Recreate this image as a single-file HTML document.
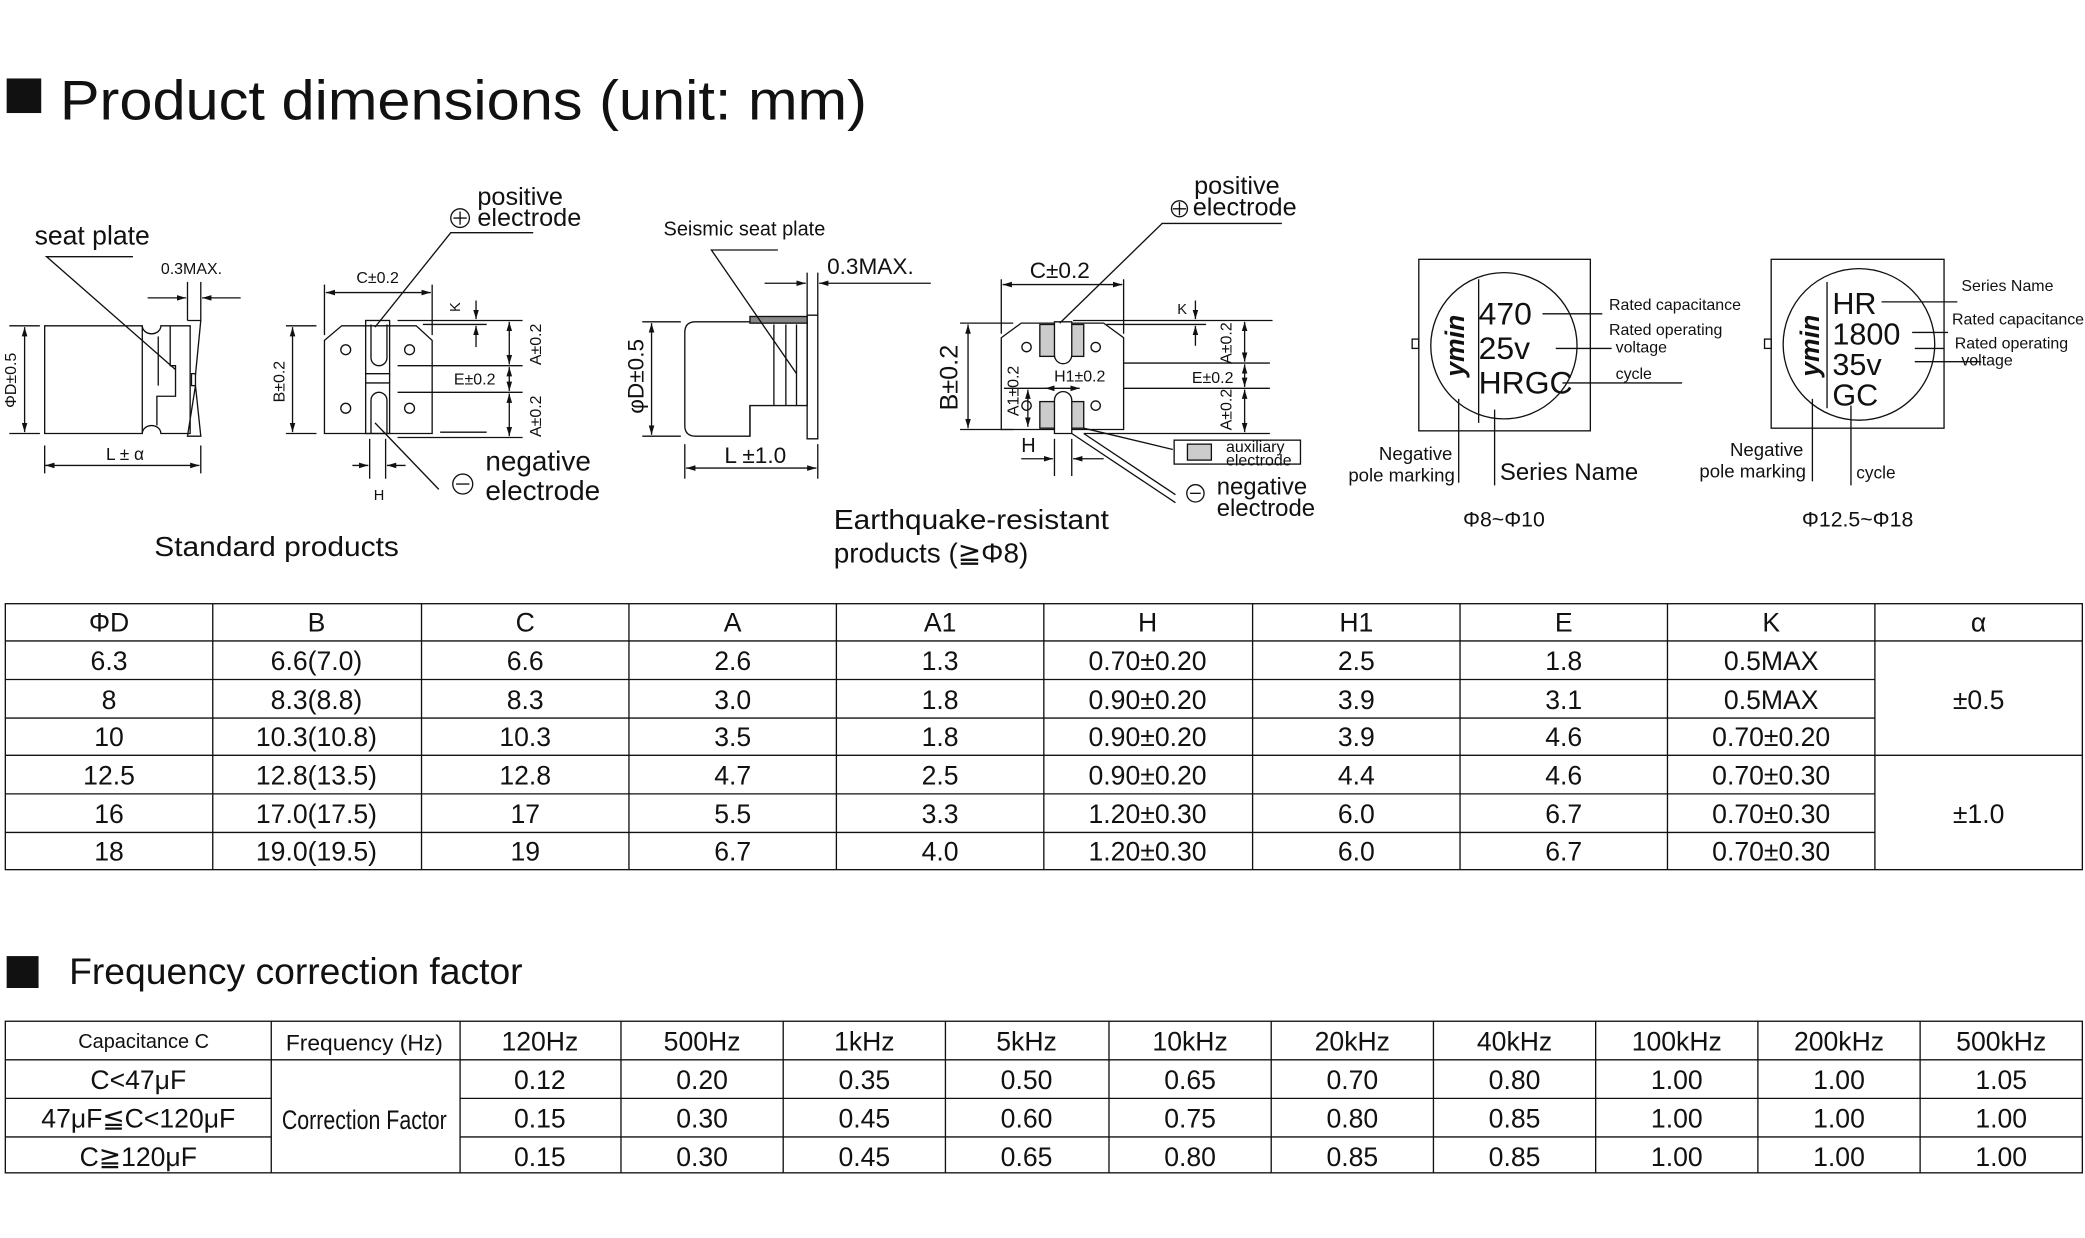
<!DOCTYPE html>
<html><head><meta charset="utf-8"><style>
html,body{margin:0;padding:0;background:#fff}
svg{display:block}
text{font-family:"Liberation Sans","DejaVu Sans",sans-serif;fill:#111}
</style></head><body>
<svg width="2085" height="1238" viewBox="0 0 1568 931" xmlns="http://www.w3.org/2000/svg">
<defs>
<marker id="a" viewBox="0 0 10 10" refX="10" refY="5" markerWidth="7" markerHeight="7" orient="auto-start-reverse"><path d="M0,2 L10,5 L0,8z" fill="#111"/></marker>
</defs>
<g stroke="#111" fill="none" stroke-width="1">
<rect x="5" y="59" width="26" height="26" fill="#111" stroke="none"/>
<!-- ===== Diagram 1 ===== -->
<path d="M33.6,245 H107 A7,6 0 0 0 121,245 H143 V326 H121 A7,6 0 0 0 107,326 H33.6 Z"/>
<line x1="107" y1="245" x2="107" y2="326"/>
<line x1="119" y1="253" x2="119" y2="290"/>
<path d="M128,245 V275 H132 V298 H118 V320"/>
<path d="M141,241 H151 L147,282 M147,290 L151,328 H141 Z"/>
<rect x="144" y="281" width="3" height="9"/>
<path d="M100,193 H35 L132,278"/>
<line x1="141" y1="212" x2="141" y2="241"/><line x1="151" y1="212" x2="151" y2="241"/>
<line x1="111" y1="224" x2="140" y2="224" marker-end="url(#a)"/>
<line x1="181" y1="224" x2="152" y2="224" marker-end="url(#a)"/>
<line x1="7" y1="245" x2="30" y2="245"/><line x1="7" y1="326" x2="30" y2="326"/>
<line x1="18.5" y1="246" x2="18.5" y2="325" marker-start="url(#a)" marker-end="url(#a)"/>
<line x1="33.6" y1="335" x2="33.6" y2="356"/><line x1="151" y1="335" x2="151" y2="356"/>
<line x1="34" y1="350" x2="150" y2="350" marker-start="url(#a)" marker-end="url(#a)"/>
<!-- ===== Diagram 2 ===== -->
<path d="M244,256 L257,245 H313 L325,256 V326 H244 Z"/>
<rect x="275" y="241" width="18" height="85"/>
<line x1="275" y1="281" x2="293" y2="281"/><line x1="275" y1="288" x2="293" y2="288"/>
<path d="M279,244 V269 A6,6 0 0 0 291,269 V244"/>
<path d="M279,326 V301 A6,6 0 0 1 291,301 V326"/>
<circle cx="260" cy="263" r="3.7"/><circle cx="308" cy="263" r="3.7"/>
<circle cx="260" cy="307" r="3.7"/><circle cx="308" cy="307" r="3.7"/>
<line x1="244" y1="214" x2="244" y2="252"/><line x1="325" y1="214" x2="325" y2="252"/>
<line x1="245" y1="220" x2="324" y2="220" marker-start="url(#a)" marker-end="url(#a)"/>
<line x1="215" y1="245" x2="238" y2="245"/><line x1="215" y1="326" x2="238" y2="326"/>
<line x1="220" y1="246" x2="220" y2="325" marker-start="url(#a)" marker-end="url(#a)"/>
<line x1="299" y1="241" x2="393" y2="241"/><line x1="318" y1="244" x2="366" y2="244"/>
<line x1="299" y1="275" x2="393" y2="275"/><line x1="299" y1="295" x2="393" y2="295"/>
<line x1="299" y1="329" x2="393" y2="329"/><line x1="331" y1="325" x2="366" y2="325"/>
<line x1="383" y1="242" x2="383" y2="274" marker-start="url(#a)" marker-end="url(#a)"/>
<line x1="383" y1="276" x2="383" y2="294" marker-start="url(#a)" marker-end="url(#a)"/>
<line x1="383" y1="296" x2="383" y2="328" marker-start="url(#a)" marker-end="url(#a)"/>
<line x1="358" y1="226" x2="358" y2="240" marker-end="url(#a)"/>
<line x1="358" y1="261" x2="358" y2="245" marker-end="url(#a)"/>
<path d="M401,175 H339 L282,246"/>
<circle cx="346" cy="164" r="7"/><path d="M341,164 H351 M346,159 V169"/>
<path d="M282,318 L330,368"/>
<line x1="278" y1="330" x2="278" y2="360"/><line x1="290" y1="330" x2="290" y2="360"/>
<line x1="265" y1="350" x2="277" y2="350" marker-end="url(#a)"/><line x1="305" y1="350" x2="291" y2="350" marker-end="url(#a)"/>
<circle cx="348" cy="364" r="7.5"/><line x1="343" y1="364" x2="353" y2="364"/>
<!-- ===== Diagram 3 ===== -->
<path d="M523,242 H607 V305 H564 V328 H523 Q515,328 515,320 V250 Q515,242 523,242 Z"/>
<rect x="564" y="238" width="43" height="5" fill="#888"/>
<path d="M607,237 H615 V330 H607 Z"/>
<line x1="564" y1="305" x2="564" y2="328"/>
<line x1="582" y1="244" x2="582" y2="305"/><line x1="591" y1="244" x2="591" y2="305"/><line x1="599" y1="244" x2="599" y2="305"/>
<path d="M585,188 H535 L599,281"/>
<line x1="607" y1="205" x2="607" y2="237"/><line x1="615" y1="205" x2="615" y2="237"/>
<line x1="575" y1="213" x2="606" y2="213" marker-end="url(#a)"/>
<line x1="700" y1="213" x2="616" y2="213" marker-end="url(#a)"/>
<line x1="483" y1="242" x2="512" y2="242"/><line x1="483" y1="328" x2="512" y2="328"/>
<line x1="490" y1="243" x2="490" y2="327" marker-start="url(#a)" marker-end="url(#a)"/>
<line x1="515" y1="334" x2="515" y2="360"/><line x1="615" y1="334" x2="615" y2="360"/>
<line x1="516" y1="352" x2="614" y2="352" marker-start="url(#a)" marker-end="url(#a)"/>
<!-- ===== Diagram 4 ===== -->
<path d="M753,254 L768,243 H830 L845,254 V323 H753 Z"/>
<rect x="782" y="244" width="33" height="24" fill="#ccc"/>
<rect x="782" y="302" width="33" height="20" fill="#ccc"/>
<path d="M793,242 V267 A6.5,6.5 0 0 0 806,267 V242 Z" fill="#fff"/>
<path d="M793,326 V301 A6.5,6.5 0 0 1 806,301 V326 Z" fill="#fff"/>
<circle cx="772" cy="261" r="3.5"/><circle cx="824" cy="261" r="3.5"/>
<circle cx="772" cy="305" r="3.5"/><circle cx="824" cy="305" r="3.5"/>
<line x1="753" y1="210" x2="753" y2="251"/><line x1="845" y1="210" x2="845" y2="251"/>
<line x1="754" y1="214" x2="844" y2="214" marker-start="url(#a)" marker-end="url(#a)"/>
<line x1="722" y1="243" x2="762" y2="243"/><line x1="722" y1="323" x2="762" y2="323"/>
<line x1="728" y1="244" x2="728" y2="322" marker-start="url(#a)" marker-end="url(#a)"/>
<line x1="807" y1="241" x2="957" y2="241"/><line x1="832" y1="244" x2="907" y2="244"/>
<line x1="845" y1="273" x2="955" y2="273"/><line x1="845" y1="292" x2="955" y2="292"/>
<line x1="815" y1="326" x2="955" y2="326"/>
<line x1="936" y1="242" x2="936" y2="272" marker-start="url(#a)" marker-end="url(#a)"/>
<line x1="936" y1="274" x2="936" y2="291" marker-start="url(#a)" marker-end="url(#a)"/>
<line x1="936" y1="293" x2="936" y2="325" marker-start="url(#a)" marker-end="url(#a)"/>
<line x1="899" y1="226" x2="899" y2="240" marker-end="url(#a)"/>
<line x1="899" y1="260" x2="899" y2="245" marker-end="url(#a)"/>
<line x1="786" y1="292" x2="812" y2="292" marker-start="url(#a)" marker-end="url(#a)"/>
<line x1="773" y1="293" x2="773" y2="321" marker-start="url(#a)" marker-end="url(#a)"/>
<line x1="755" y1="292" x2="790" y2="292"/>
<path d="M964,168 H874 L797,243"/>
<circle cx="887" cy="157" r="6"/><path d="M882,157 H892 M887,152 V162"/>
<line x1="793" y1="330" x2="793" y2="358"/><line x1="806" y1="330" x2="806" y2="358"/>
<line x1="768" y1="345" x2="792" y2="345" marker-end="url(#a)"/><line x1="830" y1="345" x2="807" y2="345" marker-end="url(#a)"/>
<path d="M815,322 L882,338 M815,326 L884,372 M806,326 L884,378"/>
<rect x="883" y="331" width="95" height="18"/>
<rect x="893" y="334" width="18" height="12" fill="#ccc"/>
<circle cx="899" cy="371" r="6.5"/><line x1="895" y1="371" x2="903" y2="371"/>
<!-- ===== Marking 1 ===== -->
<rect x="1067" y="195" width="129" height="129"/>
<rect x="1062" y="255" width="5" height="7"/>
<circle cx="1131" cy="260" r="55"/>
<line x1="1112" y1="210" x2="1112" y2="318"/>
<path d="M1160,236 H1205 M1170,262 H1212 M1175,288 H1265"/>
<path d="M1097,300 V363 M1124,308 V365"/>
<!-- ===== Marking 2 ===== -->
<rect x="1332" y="195" width="130" height="127"/>
<rect x="1327" y="255" width="5" height="7"/>
<circle cx="1398" cy="259" r="57"/>
<line x1="1374" y1="212" x2="1374" y2="307"/>
<path d="M1415,227 H1472 M1438,250 H1465 M1440,262 H1462 M1440,272 H1490"/>
<path d="M1363,300 V362 M1392,305 V365"/>
<!-- ===== Table 1 ===== -->
<rect x="4" y="454" width="1562" height="200"/>
<path d="M4,482 H1566 M4,511 H1410 M4,540 H1410 M4,568 H1566 M4,597 H1410 M4,626 H1410"/>
<path d="M160,454 V654 M317,454 V654 M473,454 V654 M629,454 V654 M785,454 V654 M942,454 V654 M1098,454 V654 M1254,454 V654 M1410,454 V654"/>
<rect x="5" y="719" width="24" height="24" fill="#111" stroke="none"/>
<!-- ===== Table 2 ===== -->
<rect x="4" y="768" width="1562" height="114"/>
<path d="M4,797 H1566 M4,826 H204 M346,826 H1566 M4,855 H204 M346,855 H1566"/>
<path d="M204,768 V882 M346,768 V882 M467,768 V882 M589,768 V882 M711,768 V882 M834,768 V882 M956,768 V882 M1078,768 V882 M1200,768 V882 M1322,768 V882 M1444,768 V882"/>
</g>

<text x="45" y="90" font-size="42" textLength="607" lengthAdjust="spacingAndGlyphs">Product dimensions (unit: mm)</text>
<text x="26" y="184" font-size="20">seat plate</text>
<text x="121" y="206" font-size="12">0.3MAX.</text>
<text transform="translate(12,286) rotate(-90)" font-size="12" text-anchor="middle">ΦD±0.5</text>
<text x="94" y="346" font-size="13" text-anchor="middle">L ± α</text>
<text x="284" y="213" font-size="12" text-anchor="middle">C±0.2</text>
<text transform="translate(214,287) rotate(-90)" font-size="12" text-anchor="middle">B±0.2</text>
<text transform="translate(407,259) rotate(-90)" font-size="12" text-anchor="middle">A±0.2</text>
<text transform="translate(407,313) rotate(-90)" font-size="12" text-anchor="middle">A±0.2</text>
<text x="357" y="289" font-size="12" text-anchor="middle">E±0.2</text>
<text transform="translate(346,231) rotate(-90)" font-size="11" text-anchor="middle">K</text>
<text x="359" y="154" font-size="19">positive</text>
<text x="359" y="170" font-size="19">electrode</text>
<text x="365" y="354" font-size="21">negative</text>
<text x="365" y="376" font-size="21">electrode</text>
<text x="285" y="376" font-size="11" text-anchor="middle">H</text>
<text x="116" y="418" font-size="21" textLength="184" lengthAdjust="spacingAndGlyphs">Standard products</text>
<text x="499" y="177" font-size="15">Seismic seat plate</text>
<text x="622" y="206" font-size="17">0.3MAX.</text>
<text transform="translate(484,283) rotate(-90)" font-size="17" text-anchor="middle">φD±0.5</text>
<text x="568" y="348" font-size="17" text-anchor="middle">L ±1.0</text>
<text x="797" y="209" font-size="17" text-anchor="middle">C±0.2</text>
<text transform="translate(720,284) rotate(-90)" font-size="19" text-anchor="middle">B±0.2</text>
<text transform="translate(926,258) rotate(-90)" font-size="12" text-anchor="middle">A±0.2</text>
<text transform="translate(926,308) rotate(-90)" font-size="12" text-anchor="middle">A±0.2</text>
<text x="912" y="288" font-size="12" text-anchor="middle">E±0.2</text>
<text x="889" y="236" font-size="11" text-anchor="middle">K</text>
<text transform="translate(766,294) rotate(-90)" font-size="12" text-anchor="middle">A1±0.2</text>
<text x="812" y="287" font-size="12" text-anchor="middle">H1±0.2</text>
<text x="768" y="340" font-size="15">H</text>
<text x="898" y="146" font-size="19">positive</text>
<text x="897" y="162" font-size="19">electrode</text>
<text x="922" y="340" font-size="12">auxiliary</text>
<text x="922" y="350" font-size="12">electrode</text>
<text x="915" y="372" font-size="18">negative</text>
<text x="915" y="388" font-size="18">electrode</text>
<text x="627" y="398" font-size="21" textLength="207" lengthAdjust="spacingAndGlyphs">Earthquake-resistant</text>
<text x="627" y="423" font-size="21">products (≧Φ8)</text>
<text transform="translate(1101,260) rotate(-90)" font-size="20" font-weight="bold" text-anchor="middle" font-style="italic">ymin</text>
<text x="1112" y="244" font-size="24">470</text>
<text x="1112" y="270" font-size="24">25v</text>
<text x="1112" y="296" font-size="24">HRGC</text>
<text x="1210" y="233" font-size="12">Rated capacitance</text>
<text x="1210" y="252" font-size="12">Rated operating</text>
<text x="1215" y="265" font-size="12">voltage</text>
<text x="1215" y="285" font-size="12">cycle</text>
<text x="1037" y="346" font-size="14">Negative</text>
<text x="1014" y="362" font-size="14">pole marking</text>
<text x="1128" y="361" font-size="18">Series Name</text>
<text x="1131" y="396" font-size="16" text-anchor="middle">Φ8~Φ10</text>
<text transform="translate(1368,260) rotate(-90)" font-size="20" font-weight="bold" text-anchor="middle" font-style="italic">ymin</text>
<text x="1378" y="236" font-size="23">HR</text>
<text x="1378" y="259" font-size="23">1800</text>
<text x="1378" y="282" font-size="23">35v</text>
<text x="1378" y="305" font-size="23">GC</text>
<text x="1475" y="219" font-size="12">Series Name</text>
<text x="1468" y="244" font-size="12">Rated capacitance</text>
<text x="1470" y="262" font-size="12">Rated operating</text>
<text x="1475" y="275" font-size="12">voltage</text>
<text x="1301" y="343" font-size="14">Negative</text>
<text x="1278" y="359" font-size="14">pole marking</text>
<text x="1396" y="360" font-size="13">cycle</text>
<text x="1397" y="396" font-size="16" text-anchor="middle">Φ12.5~Φ18</text>

<g font-size="20" text-anchor="middle">
<text x="82" y="475">ΦD</text><text x="238" y="475">B</text><text x="395" y="475">C</text><text x="551" y="475">A</text><text x="707" y="475">A1</text><text x="863" y="475">H</text><text x="1020" y="475">H1</text><text x="1176" y="475">E</text><text x="1332" y="475">K</text><text x="1488" y="475">α</text>
<text x="82" y="504">6.3</text><text x="238" y="504">6.6(7.0)</text><text x="395" y="504">6.6</text><text x="551" y="504">2.6</text><text x="707" y="504">1.3</text><text x="863" y="504">0.70±0.20</text><text x="1020" y="504">2.5</text><text x="1176" y="504">1.8</text><text x="1332" y="504">0.5MAX</text>
<text x="82" y="533">8</text><text x="238" y="533">8.3(8.8)</text><text x="395" y="533">8.3</text><text x="551" y="533">3.0</text><text x="707" y="533">1.8</text><text x="863" y="533">0.90±0.20</text><text x="1020" y="533">3.9</text><text x="1176" y="533">3.1</text><text x="1332" y="533">0.5MAX</text>
<text x="82" y="561">10</text><text x="238" y="561">10.3(10.8)</text><text x="395" y="561">10.3</text><text x="551" y="561">3.5</text><text x="707" y="561">1.8</text><text x="863" y="561">0.90±0.20</text><text x="1020" y="561">3.9</text><text x="1176" y="561">4.6</text><text x="1332" y="561">0.70±0.20</text>
<text x="82" y="590">12.5</text><text x="238" y="590">12.8(13.5)</text><text x="395" y="590">12.8</text><text x="551" y="590">4.7</text><text x="707" y="590">2.5</text><text x="863" y="590">0.90±0.20</text><text x="1020" y="590">4.4</text><text x="1176" y="590">4.6</text><text x="1332" y="590">0.70±0.30</text>
<text x="82" y="619">16</text><text x="238" y="619">17.0(17.5)</text><text x="395" y="619">17</text><text x="551" y="619">5.5</text><text x="707" y="619">3.3</text><text x="863" y="619">1.20±0.30</text><text x="1020" y="619">6.0</text><text x="1176" y="619">6.7</text><text x="1332" y="619">0.70±0.30</text>
<text x="82" y="647">18</text><text x="238" y="647">19.0(19.5)</text><text x="395" y="647">19</text><text x="551" y="647">6.7</text><text x="707" y="647">4.0</text><text x="863" y="647">1.20±0.30</text><text x="1020" y="647">6.0</text><text x="1176" y="647">6.7</text><text x="1332" y="647">0.70±0.30</text>
<text x="1488" y="533">±0.5</text><text x="1488" y="619">±1.0</text>
</g>
<text x="52" y="740" font-size="28" textLength="341" lengthAdjust="spacingAndGlyphs">Frequency correction factor</text>
<g font-size="20" text-anchor="middle">
<text x="108" y="788" font-size="15">Capacitance C</text>
<text x="274" y="790" font-size="17" textLength="118" lengthAdjust="spacingAndGlyphs">Frequency (Hz)</text>
<text x="406" y="790">120Hz</text><text x="528" y="790">500Hz</text><text x="650" y="790">1kHz</text><text x="772" y="790">5kHz</text><text x="895" y="790">10kHz</text><text x="1017" y="790">20kHz</text><text x="1139" y="790">40kHz</text><text x="1261" y="790">100kHz</text><text x="1383" y="790">200kHz</text><text x="1505" y="790">500kHz</text>
<text x="104" y="819">C&lt;47μF</text>
<text x="104" y="848">47μF≦C&lt;120μF</text>
<text x="104" y="877">C≧120μF</text>
<text x="274" y="849" textLength="124" lengthAdjust="spacingAndGlyphs">Correction Factor</text>
<text x="406" y="819">0.12</text><text x="528" y="819">0.20</text><text x="650" y="819">0.35</text><text x="772" y="819">0.50</text><text x="895" y="819">0.65</text><text x="1017" y="819">0.70</text><text x="1139" y="819">0.80</text><text x="1261" y="819">1.00</text><text x="1383" y="819">1.00</text><text x="1505" y="819">1.05</text>
<text x="406" y="848">0.15</text><text x="528" y="848">0.30</text><text x="650" y="848">0.45</text><text x="772" y="848">0.60</text><text x="895" y="848">0.75</text><text x="1017" y="848">0.80</text><text x="1139" y="848">0.85</text><text x="1261" y="848">1.00</text><text x="1383" y="848">1.00</text><text x="1505" y="848">1.00</text>
<text x="406" y="877">0.15</text><text x="528" y="877">0.30</text><text x="650" y="877">0.45</text><text x="772" y="877">0.65</text><text x="895" y="877">0.80</text><text x="1017" y="877">0.85</text><text x="1139" y="877">0.85</text><text x="1261" y="877">1.00</text><text x="1383" y="877">1.00</text><text x="1505" y="877">1.00</text>
</g>
</svg>
</body></html>
